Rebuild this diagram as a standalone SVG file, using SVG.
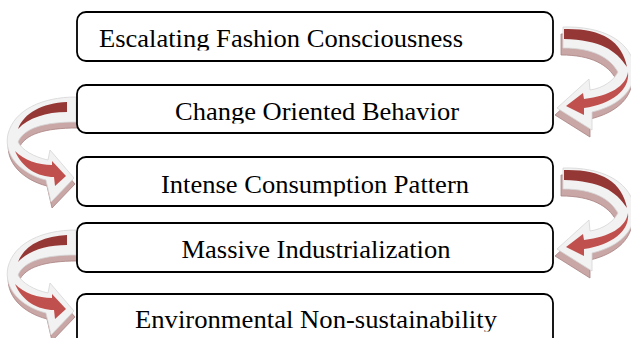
<svg xmlns="http://www.w3.org/2000/svg" xmlns:xlink="http://www.w3.org/1999/xlink" width="631" height="338" viewBox="0 0 631 338">
<style>
.box{fill:#ffffff;stroke:#000000;stroke-width:1.8}
.lbl{font-family:"Liberation Serif","Times New Roman",serif;font-size:25px;fill:#000000}
.bev{fill:#f2f2f2;stroke:#d6d6d6;stroke-width:0.8}
.shd{fill:#c9a7a7;stroke:#a98282;stroke-width:0.8}
.dk{fill:#953735}
.lt{fill:#c0504d}
</style>
<defs>
<path id="rOut" d="M 563,27 C 602,26 628,40 634,64 C 638,90 618,106 592,112 L 592,130 L 557,108 L 589,79 L 590,90 C 604,88 614,80 618,72 C 610,58 594,48 563,48 Z"/>
<g id="arrowR">
<use xlink:href="#rOut" href="#rOut" class="shd" transform="translate(-2,7)"/>
<use xlink:href="#rOut" href="#rOut" class="bev"/>
<path class="dk" d="M 564,29 C 600,28 622,40 627,67 C 616,50 600,40 564,39 Z"/>
<path class="lt" d="M 628,72 C 626,86 610,96 584,99 L 583,93 L 566,106 L 584,115 L 584,108 C 612,104 630,90 628,72 Z"/>
</g>
<path id="lOut" d="M 76,97 C 42,97 14,110 8,134 C 3,156 22,174 46,180 L 51,202 L 74,178 L 50,150 L 48,160 C 34,157 22,150 18,142 C 24,128 44,122 76,122 Z"/>
<g id="arrowL">
<use xlink:href="#lOut" href="#lOut" class="shd" transform="translate(1,6)"/>
<use xlink:href="#lOut" href="#lOut" class="bev"/>
<path class="dk" d="M 67,102 C 42,103 24,113 18,129 C 28,118 46,112 67,112 Z"/>
<path class="lt" d="M 15,151 C 24,160 38,165 52,165 L 52,161 L 66,176 L 55,186 L 54,177 C 38,177 22,168 15,151 Z"/>
</g>
<clipPath id="c1"><rect x="78" y="12" width="474" height="38.5"/></clipPath>
<clipPath id="c2"><rect x="78" y="85" width="474" height="38.5"/></clipPath>
<clipPath id="c3"><rect x="78" y="157" width="474" height="39.5"/></clipPath>
<clipPath id="c4"><rect x="78" y="223" width="474" height="38.5"/></clipPath>
<clipPath id="c5"><rect x="78" y="294" width="474" height="37.5"/></clipPath>
</defs>
<g id="connectors">
<use xlink:href="#arrowR" href="#arrowR"/>
<use xlink:href="#arrowL" href="#arrowL"/>
<use xlink:href="#arrowR" href="#arrowR" transform="translate(0,141)"/>
<use xlink:href="#arrowL" href="#arrowL" transform="translate(0,133)"/>
</g>
<g id="node1">
<rect class="box" x="77" y="12" width="476" height="49" rx="9"/>
<text class="lbl" x="99" y="47" textLength="364" lengthAdjust="spacingAndGlyphs" clip-path="url(#c1)">Escalating Fashion Consciousness</text>
</g>
<g id="node2">
<rect class="box" x="77" y="85" width="476" height="48" rx="9"/>
<text class="lbl" x="175" y="120" textLength="284" lengthAdjust="spacingAndGlyphs" clip-path="url(#c2)">Change Oriented Behavior</text>
</g>
<g id="node3">
<rect class="box" x="77" y="157" width="476" height="49" rx="9"/>
<text class="lbl" x="161" y="193" textLength="308" lengthAdjust="spacingAndGlyphs" clip-path="url(#c3)">Intense Consumption Pattern</text>
</g>
<g id="node4">
<rect class="box" x="77" y="223" width="476" height="49" rx="9"/>
<text class="lbl" x="181.5" y="258" textLength="269" lengthAdjust="spacingAndGlyphs" clip-path="url(#c4)">Massive Industrialization</text>
</g>
<g id="node5">
<rect class="box" x="77" y="294" width="476" height="60" rx="9"/>
<text class="lbl" x="135" y="328" textLength="362" lengthAdjust="spacingAndGlyphs" clip-path="url(#c5)">Environmental Non-sustainability</text>
</g>
</svg>
